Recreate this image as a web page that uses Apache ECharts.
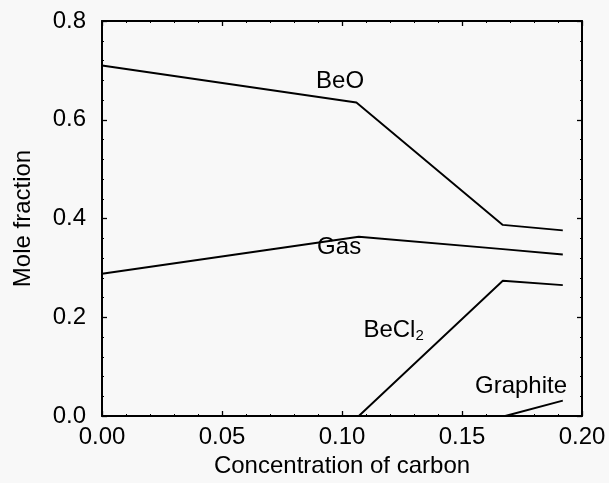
<!DOCTYPE html>
<html><head><meta charset="utf-8">
<script src="https://cdn.jsdelivr.net/npm/echarts@6/dist/echarts.min.js"></script>
<style>html,body{margin:0;padding:0;background:#f8f8f8}#c{width:609px;height:483px}</style>
</head><body><div id="c"></div>
<script>
// Data (x = concentration of carbon, y = mole fraction)
const beoX = [0.0, 0.106, 0.167, 0.192];
const beoY = [0.710, 0.635, 0.387, 0.376];
const gasX = [0.0, 0.107, 0.167, 0.192];
const gasY = [0.288, 0.363, 0.338, 0.327];
const becl2X = [0.0, 0.107, 0.167, 0.192];
const becl2Y = [0.0, 0.0, 0.274, 0.265];
const graphiteX = [0.0, 0.168, 0.192];
const graphiteY = [0.0, 0.0, 0.031];
const xTicks = ['0.00', '0.05', '0.10', '0.15', '0.20'];
const yTicks = ['0.0', '0.2', '0.4', '0.6', '0.8'];
// Curve labels (name, x, y in data units)
const labelNames = ['BeO', 'Gas', 'BeCl2', 'Graphite'];
const labelX = [0.0992, 0.0988, 0.1215, 0.1746];
const labelY = [0.677, 0.342, 0.174, 0.060];

const zip = (xs, ys) => xs.map((x, i) => [x, ys[i]]);
const font = 'Liberation Sans, Arial, Helvetica, sans-serif';
const FS = 24;
const lineStyle = { color: '#000', width: 1.9 };
function mkLine(name, xs, ys) {
  return { name, type: 'line', data: zip(xs, ys), symbol: 'none', lineStyle, z: 3, animation: false };
}
function axisCommon() {
  return {
    axisLine: { show: true, onZero: false, lineStyle: { color: '#000', width: 2 } },
    axisTick: { show: true, inside: true, length: 5, lineStyle: { color: '#000', width: 1.3 } },
    minorTick: { show: true, splitNumber: 5, length: 2, lineStyle: { color: '#000', width: 1 } },
    splitLine: { show: false }
  };
}
const chart = echarts.init(document.getElementById('c'));
chart.setOption({
  backgroundColor: '#f8f8f8',
  animation: false,
  grid: { left: 102, right: 27, top: 21, bottom: 65 },
  xAxis: [
    Object.assign(axisCommon(), {
      type: 'value', min: 0, max: 0.2, interval: 0.05, position: 'bottom',
      name: 'Concentration of carbon', nameLocation: 'middle', nameGap: 38,
      nameTextStyle: { fontFamily: font, fontSize: FS, color: '#000' },
      axisLabel: { fontFamily: font, fontSize: FS, color: '#000', margin: 9,
        formatter: v => xTicks[Math.round(v / 0.05)] }
    }),
    Object.assign(axisCommon(), {
      type: 'value', min: 0, max: 0.2, interval: 0.05, position: 'top',
      axisLabel: { show: false }
    })
  ],
  yAxis: [
    Object.assign(axisCommon(), {
      type: 'value', min: 0, max: 0.8, interval: 0.2, position: 'left',
      name: 'Mole fraction', nameLocation: 'middle', nameGap: 67, nameRotate: 90,
      nameTextStyle: { fontFamily: font, fontSize: FS, color: '#000' },
      axisLabel: { fontFamily: font, fontSize: FS, color: '#000', margin: 16,
        formatter: v => yTicks[Math.round(v / 0.2)] }
    }),
    Object.assign(axisCommon(), {
      type: 'value', min: 0, max: 0.8, interval: 0.2, position: 'right',
      axisLabel: { show: false }
    })
  ],
  series: [
    mkLine('BeO', beoX, beoY),
    mkLine('Gas', gasX, gasY),
    mkLine('BeCl2', becl2X, becl2Y),
    mkLine('Graphite', graphiteX, graphiteY),
    {
      type: 'scatter', symbolSize: 0, silent: true, z: 5,
      itemStyle: { opacity: 1, color: '#000' },
      data: labelNames.map((n, i) => ({ name: n, value: [labelX[i], labelY[i]] })),
      label: {
        show: true, position: 'inside', color: '#000', fontFamily: font, fontSize: FS,
        textBorderWidth: 0,
        formatter: p => p.name === 'BeCl2' ? '{a|BeCl}{s|2}' : p.name,
        rich: {
          a: { fontFamily: font, fontSize: FS, color: '#000' },
          s: { fontFamily: font, fontSize: 15, color: '#000', padding: [12, 0, 0, 0] }
        }
      }
    }
  ]
});
</script></body></html>
